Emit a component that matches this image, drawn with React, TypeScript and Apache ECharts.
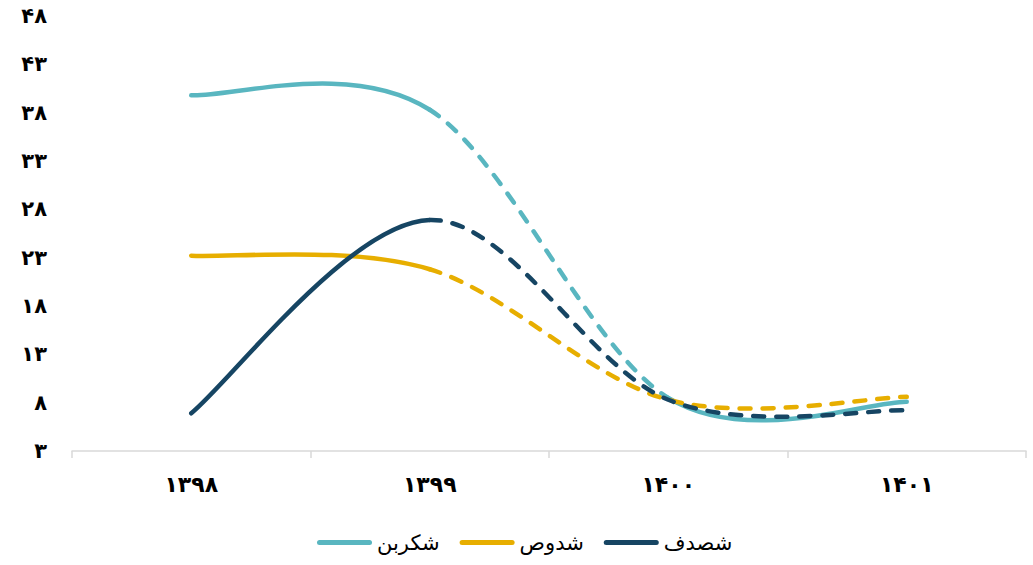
import React, { useEffect, useRef } from "react";
import * as echarts from "echarts";

const categories = ["۱۳۹۸", "۱۳۹۹", "۱۴۰۰", "۱۴۰۱"];
const seriesNames = ["شکربن", "شدوص", "شصدف"];
const shekarbanValues = [39.8, 38.3, 8.5, 8.1];
const shedusValues = [23.2, 21.8, 8.3, 8.6];
const shesadafValues = [6.9, 26.9, 8.3, 7.2];
// true = dashed segment (segment i goes from category i to i+1)
const shekarbanDashed = [false, true, false];
const shedusDashed = [false, true, true];
const shesadafDashed = [false, true, true];
const yTicks = [3, 8, 13, 18, 23, 28, 33, 38, 43, 48];

const COLORS = ["#59B6C0", "#E7AE00", "#164563"];
const FONT = "'DejaVu Sans', sans-serif";

const toPersian = (v: number | string) =>
  String(v).replace(/\d/g, (d) => "۰۱۲۳۴۵۶۷۸۹"[Number(d)]);

function makeRender(values: number[], dashed: boolean[], color: string) {
  return (params: any, api: any) => {
    if (params.dataIndex !== 0) return null;
    const pts = values.map((v, i) => api.coord([i, v]));
    const segs: { d: string; dashed: boolean }[] = [];
    for (let i = 0; i < pts.length - 1; i++) {
      const p0 = pts[i - 1] ?? pts[i];
      const p1 = pts[i];
      const p2 = pts[i + 1];
      const p3 = pts[i + 2] ?? pts[i + 1];
      const c1 = [p1[0] + (p2[0] - p0[0]) / 6, p1[1] + (p2[1] - p0[1]) / 6];
      const c2 = [p2[0] - (p3[0] - p1[0]) / 6, p2[1] - (p3[1] - p1[1]) / 6];
      const curve = `C${c1[0]},${c1[1]} ${c2[0]},${c2[1]} ${p2[0]},${p2[1]}`;
      const last = segs[segs.length - 1];
      if (last && last.dashed === dashed[i]) {
        last.d += " " + curve;
      } else {
        segs.push({ d: `M${p1[0]},${p1[1]} ${curve}`, dashed: dashed[i] });
      }
    }
    return {
      type: "group",
      children: segs.map((s) => ({
        type: "path",
        shape: { pathData: s.d },
        style: {
          fill: "none",
          stroke: color,
          lineWidth: 4.5,
          lineCap: "round",
          lineJoin: "round",
          lineDash: s.dashed ? [11, 12] : null,
        },
      })),
    };
  };
}

const legendIcon =
  "path://M2.5,0H52.5A2.5,2.5,0,0,1,52.5,5H2.5A2.5,2.5,0,0,1,2.5,0Z";

export default function App() {
  const ref = useRef<HTMLDivElement>(null);
  useEffect(() => {
    document.body.style.margin = "0";
    const chart = echarts.init(ref.current!, null, { renderer: "svg" });
    const all = [
      { values: shekarbanValues, dashed: shekarbanDashed },
      { values: shedusValues, dashed: shedusDashed },
      { values: shesadafValues, dashed: shesadafDashed },
    ];
    chart.setOption({
      animation: false,
      backgroundColor: "#ffffff",
      grid: { left: 72, right: 7, top: 16, bottom: 114, containLabel: false },
      xAxis: {
        type: "category",
        data: categories,
        boundaryGap: true,
        axisLine: { lineStyle: { color: "#D9D9D9", width: 1.5 } },
        axisTick: { show: true, length: 7, lineStyle: { color: "#D9D9D9", width: 1.5 } },
        axisLabel: {
          color: "#000",
          fontFamily: FONT,
          fontWeight: "bold",
          fontSize: 22,
          margin: 22,
        },
        splitLine: { show: false },
      },
      yAxis: {
        type: "value",
        min: 3,
        max: 48,
        axisLine: { show: false },
        axisTick: { show: false },
        splitLine: { show: false },
        axisLabel: {
          customValues: yTicks,
          formatter: (v: number) => toPersian(v),
          color: "#000",
          fontFamily: FONT,
          fontWeight: "bold",
          fontSize: 21,
          margin: 25,
        },
      },
      legend: {
        top: 527,
        left: 312,
        itemWidth: 55,
        itemHeight: 5,
        itemGap: 20,
        textStyle: { color: "#000", fontFamily: FONT, fontSize: 21 },
        data: seriesNames.map((n, i) => ({ name: n, icon: legendIcon, itemStyle: { color: COLORS[i] } })),
      },
      series: all.map((s, i) => ({
        type: "custom",
        name: seriesNames[i],
        itemStyle: { color: COLORS[i] },
        data: s.values.map((v, j) => [j, v]),
        encode: { x: 0, y: 1 },
        renderItem: makeRender(s.values, s.dashed, COLORS[i]),
        z: 2 + i,
      })),
    });
    return () => chart.dispose();
  }, []);
  return <div ref={ref} style={{ width: 1033, height: 565 }} />;
}
